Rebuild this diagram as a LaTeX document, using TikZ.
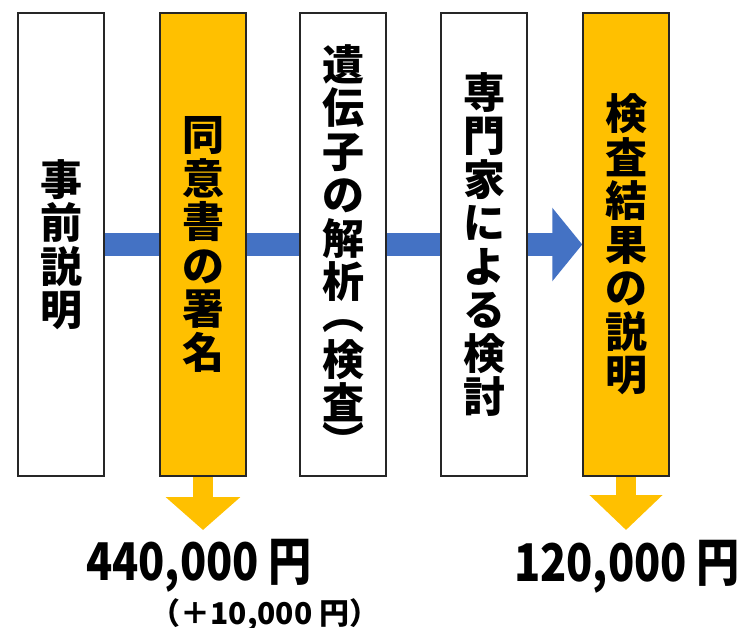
\documentclass[tikz,border=0pt]{standalone}
\usepackage{fontspec}
\newfontfamily\jpfont{Noto Sans CJK JP}
\usetikzlibrary{arrows.meta}
\definecolor{gold}{HTML}{FFC000}
\definecolor{steel}{HTML}{4472C4}
\tikzset{
    flowbox/.style={rectangle, draw=black!85, line width=1.5pt, fill=white,
    	minimum width=86pt, minimum height=463pt, inner sep=0pt, align=center,
    	font=\jpfont\bfseries\fontsize{42}{43.5}\selectfont}
}
\tikzset{
    price/.style={inner sep=0pt, font=\jpfont\bfseries\fontsize{52}{52}\selectfont},
    note/.style={inner sep=0pt, font=\jpfont\bfseries\fontsize{30}{30}\selectfont}
}
% vertical brackets for the third box
\newcommand{\vopen}{\smash{\rotatebox[origin=c]{-90}{（}}}
\newcommand{\vclose}{\smash{\rotatebox[origin=c]{-90}{）}}}
\pgfdeclarelayer{background}
\pgfsetlayers{background,main}

\begin{document}
\begin{tikzpicture}[x=1pt,y=-1pt]
  \useasboundingbox (0,0) rectangle (739,627);

  \node (b1) [flowbox] at (61,244.5) {事\\前\\説\\明};
  \node (b2) [flowbox, fill=gold] at (203,244.5) {同\\意\\書\\の\\署\\名};
  \node (b3) [flowbox] at (343,244.5)
    {\rule{0pt}{48pt}遺\\伝\\子\\の\\解\\析\\[-11.5pt]\vopen\\[2pt]検\\査\\[-5pt]\vclose};
  \node (b4) [flowbox] at (484,244.5) {専\\門\\家\\に\\よ\\る\\検\\討};
  \node (b5) [flowbox, fill=gold] at (626,244.5) {検\\査\\結\\果\\の\\説\\明};

  \coordinate (t2) at (203,530);
  \coordinate (t5) at (626,530);

  \node (p1) [price] at (199,566) {\scalebox{0.83}[1]{440,000 円}};
  \node (p2) [price] at (627,567) {\scalebox{0.83}[1]{120,000 円}};
  \node (p3) [note] at (265,615) {（＋10,000 円）};

  \begin{pgfonlayer}{background}
    \draw [steel, line width=23pt, -{Triangle[length=30pt,width=72pt]}] (b1.east) -- (b5.west);
    \draw [gold, line width=20pt, -{Triangle[length=33pt,width=73pt]}] (b2.south) -- (t2);
    \draw [gold, line width=20pt, -{Triangle[length=35pt,width=71pt]}] (b5.south) -- (t5);
  \end{pgfonlayer}
\end{tikzpicture}
\end{document}
